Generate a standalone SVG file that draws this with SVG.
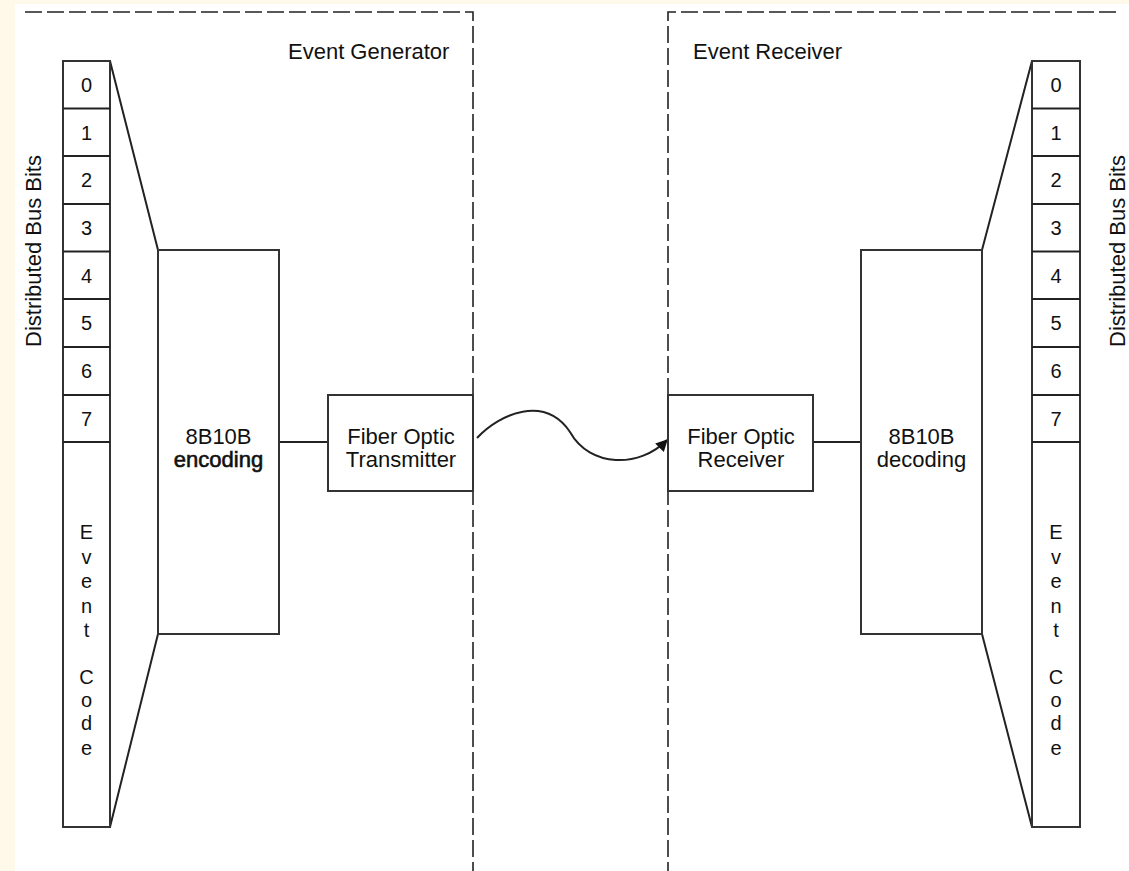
<svg xmlns="http://www.w3.org/2000/svg" width="1129" height="871" viewBox="0 0 1129 871">
<style>
.ln{fill:none;stroke:#222;stroke-width:2}
.box{fill:#fff;stroke:#333;stroke-width:2}
.dash{fill:none;stroke:#222;stroke-width:1.6;stroke-dasharray:17 5}
text{font-family:"Liberation Sans",Arimo,Arial,Helvetica,sans-serif;fill:#111}
.t{font-size:22px;text-anchor:middle}
.n{font-size:20px;text-anchor:middle}
.h{font-size:22px}
.v{font-size:22px;text-anchor:middle}
</style>
<defs>
<marker id="ah" viewBox="0 0 10 10" refX="9" refY="5" markerWidth="16" markerHeight="12" markerUnits="userSpaceOnUse" orient="auto">
<path d="M0,0 L10,5 L0,10 z" fill="#111"/>
</marker>
</defs>
<rect x="0" y="0" width="1129" height="871" fill="#fef9e9"/>
<rect x="15" y="4" width="1114" height="867" fill="#fff"/>
<g id="boundaries">
<path class="dash" d="M25,12 H473 V871"/>
<path class="dash" d="M1116,12 H668 V871"/>
<text class="h" x="288" y="59">Event Generator</text>
<text class="h" x="693" y="59">Event Receiver</text>
</g>
<g id="connectors">
<path class="ln" d="M110,61 L158,250 M158,634 L110,827"/>
<path class="ln" d="M1032,61 L982,250 M982,634 L1032,827"/>
<path class="ln" d="M279,442 H328"/>
<path class="ln" d="M813,442 H861"/>
<path class="ln" d="M477,438 C500,413 545,395 570,432 C590,468 640,468 667,440" marker-end="url(#ah)"/>
</g>
<g id="bits-left">
<rect class="box" x="63" y="61" width="47" height="766"/>
<path class="ln" d="M63,108.5 H110 M63,156 H110 M63,204 H110 M63,251.5 H110 M63,299 H110 M63,347 H110 M63,395 H110 M63,442 H110"/>
<text class="n" x="86.5" y="92">0</text>
<text class="n" x="86.5" y="139.5">1</text>
<text class="n" x="86.5" y="187">2</text>
<text class="n" x="86.5" y="235">3</text>
<text class="n" x="86.5" y="282.5">4</text>
<text class="n" x="86.5" y="330">5</text>
<text class="n" x="86.5" y="378">6</text>
<text class="n" x="86.5" y="426">7</text>
<text class="n" x="86.5" y="539">E</text>
<text class="n" x="86.5" y="564">v</text>
<text class="n" x="86.5" y="588">e</text>
<text class="n" x="86.5" y="613">n</text>
<text class="n" x="86.5" y="637">t</text>
<text class="n" x="86.5" y="684">C</text>
<text class="n" x="86.5" y="707">o</text>
<text class="n" x="86.5" y="730">d</text>
<text class="n" x="86.5" y="755">e</text>
<text class="v" transform="translate(41,251) rotate(-90)">Distributed Bus Bits</text>
</g>
<g id="encoder">
<rect class="box" x="158" y="250" width="121" height="384"/>
<text class="t" x="218.5" y="444">8B10B</text>
<text class="t" x="218.5" y="467" stroke="#111" stroke-width="0.6">encoding</text>
</g>
<g id="transmitter">
<rect class="box" x="328" y="395" width="145" height="96"/>
<text class="t" x="401" y="444">Fiber Optic</text>
<text class="t" x="401" y="467">Transmitter</text>
</g>
<g id="receiver">
<rect class="box" x="668" y="395" width="145" height="96"/>
<text class="t" x="741" y="444">Fiber Optic</text>
<text class="t" x="741" y="467">Receiver</text>
</g>
<g id="decoder">
<rect class="box" x="861" y="250" width="121" height="384"/>
<text class="t" x="921.5" y="444">8B10B</text>
<text class="t" x="921.5" y="467">decoding</text>
</g>
<g id="bits-right">
<rect class="box" x="1032" y="61" width="48" height="766"/>
<path class="ln" d="M1032,108.5 H1080 M1032,156 H1080 M1032,204 H1080 M1032,251.5 H1080 M1032,299 H1080 M1032,347 H1080 M1032,395 H1080 M1032,442 H1080"/>
<text class="n" x="1056" y="92">0</text>
<text class="n" x="1056" y="139.5">1</text>
<text class="n" x="1056" y="187">2</text>
<text class="n" x="1056" y="235">3</text>
<text class="n" x="1056" y="282.5">4</text>
<text class="n" x="1056" y="330">5</text>
<text class="n" x="1056" y="378">6</text>
<text class="n" x="1056" y="426">7</text>
<text class="n" x="1056" y="539">E</text>
<text class="n" x="1056" y="564">v</text>
<text class="n" x="1056" y="588">e</text>
<text class="n" x="1056" y="613">n</text>
<text class="n" x="1056" y="637">t</text>
<text class="n" x="1056" y="684">C</text>
<text class="n" x="1056" y="707">o</text>
<text class="n" x="1056" y="730">d</text>
<text class="n" x="1056" y="755">e</text>
<text class="v" transform="translate(1125,251) rotate(-90)">Distributed Bus Bits</text>
</g>
</svg>
